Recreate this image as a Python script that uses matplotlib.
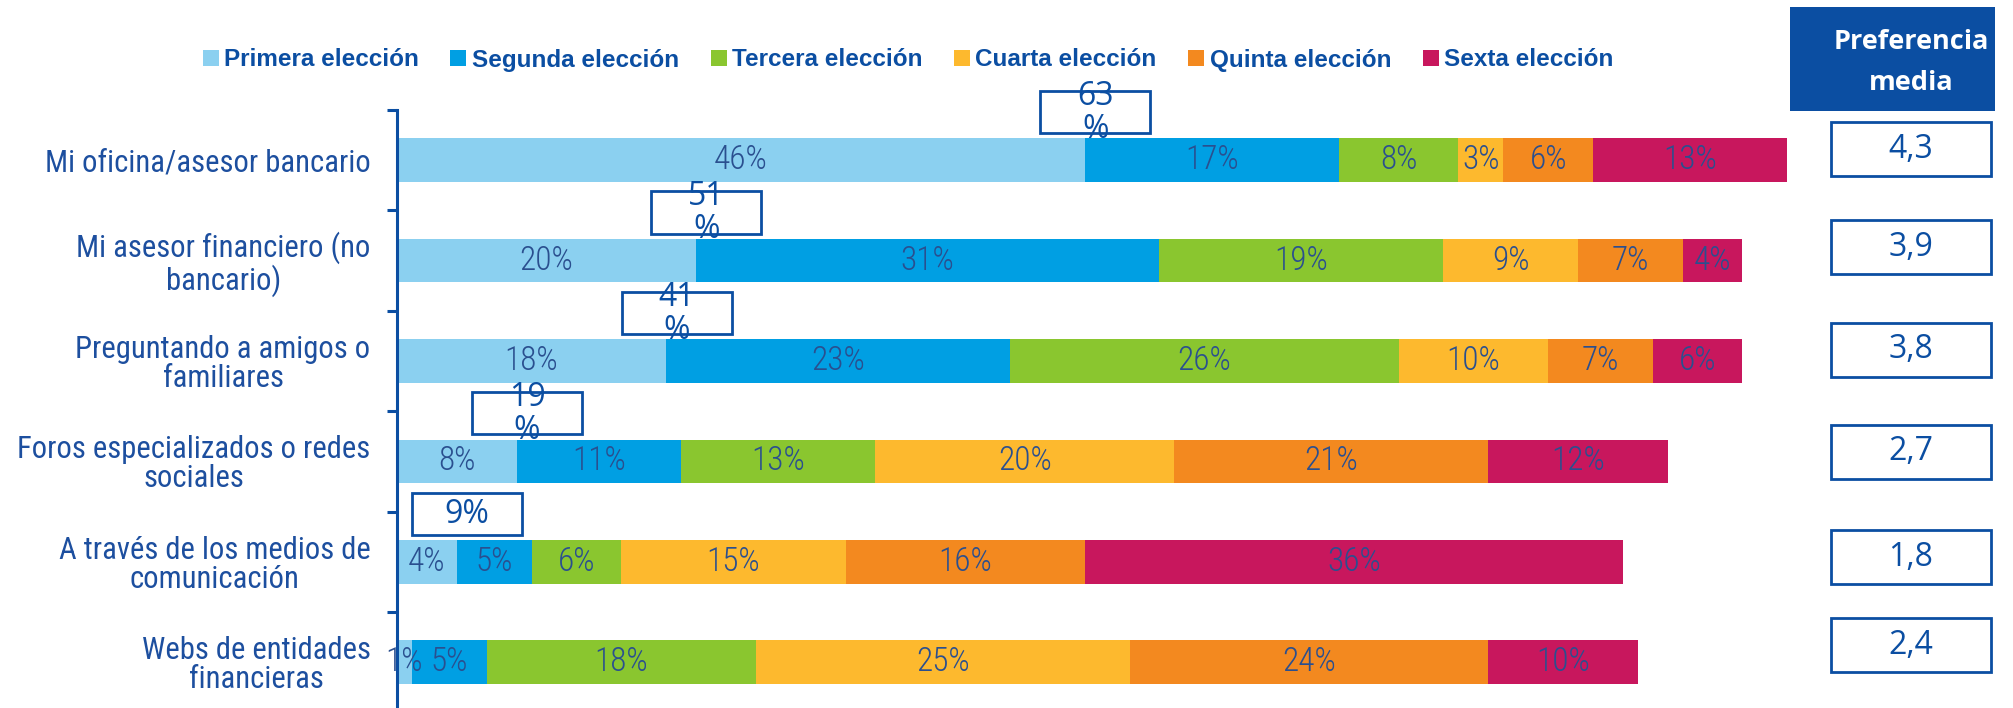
import matplotlib as mpl
mpl.use('Agg')
import numpy as np
from matplotlib import pyplot as plt
from matplotlib import font_manager
from matplotlib.patches import Rectangle

# canales de información y reparto de preferencias (% por posición)
canales = ['Mi oficina/asesor bancario',
           'Mi asesor financiero (no\nbancario)',
           'Preguntando a amigos o\nfamiliares',
           'Foros especializados o redes\nsociales',
           'A través de los medios de\ncomunicación',
           'Webs de entidades\nfinancieras']
series = ['Primera elección', 'Segunda elección', 'Tercera elección',
          'Cuarta elección', 'Quinta elección', 'Sexta elección']
primera = [46, 20, 18, 8, 4, 1]
segunda = [17, 31, 23, 11, 5, 5]
tercera = [8, 19, 26, 13, 6, 18]
cuarta = [3, 9, 10, 20, 15, 25]
quinta = [6, 7, 7, 21, 16, 24]
sexta = [13, 4, 6, 12, 36, 10]
pref_media = [4.3, 3.9, 3.8, 2.7, 1.8, 2.4]
# las filas con recuadro de primera+segunda elección
con_recuadro = [True, True, True, True, True, False]

colores = ['#8bd0f0', '#009fe3', '#8ac62f', '#fdb92e', '#f3891f', '#c8175d']
azul = '#0b4ea2'
azul_cat = '#1d4f9f'
azul_txt = '#2a4f8f'
opensans = ['Open Sans', 'DejaVu Sans']


def existe(nombre):
    try:
        font_manager.findfont(font_manager.FontProperties(family=nombre),
                              fallback_to_default=False)
        return True
    except ValueError:
        return False


# fuente estrecha si la hay
estrecha = None
for f in ['Liberation Sans Narrow', 'Roboto Condensed', 'Liberation Sans']:
    if existe(f):
        estrecha = [f, 'DejaVu Sans']
        break
if estrecha is None:
    estrecha = ['DejaVu Sans']

W, H = 2013, 708
fig = plt.figure(figsize=(W / 100, H / 100), dpi=100)
renderer = fig.canvas.get_renderer()


def talla_para(texto, ancho_px, **kw):
    # tamaño de letra para que el texto ocupe ancho_px
    t = fig.text(0, 0, texto, fontsize=20, **kw)
    w = t.get_window_extent(renderer).width
    t.remove()
    return 20 * ancho_px / w


talla_cat = talla_para('Mi oficina/asesor bancario', 324, family=estrecha)
talla_seg = min(talla_para('17%', 56, family=estrecha, fontweight='light'), 24)

# eje de barras: x=0 en 397 px, 100% = 1495 px; filas de 110 px a 712 px
ax = fig.add_axes([397 / W, (H - 712.5) / H, 1495 / W, 602.5 / H])
ax.set_xlim(0, 100)
ax.set_ylim(5.5, -0.5)

datos = np.array([primera, segunda, tercera, cuarta, quinta, sexta])
y = np.arange(len(canales))
izq = np.zeros(len(canales))
handles = []
for k in range(len(series)):
    bars = ax.barh(y, datos[k], left=izq, height=0.435, color=colores[k],
                   label=series[k], linewidth=0)
    handles.append(bars)
    for i, v in enumerate(datos[k]):
        ax.text(izq[i] + v / 2, y[i], f'{v}%', ha='center', va='center',
                fontsize=talla_seg, color=azul_txt, family=estrecha,
                fontweight='light')
    izq = izq + datos[k]

# recuadros con la suma de primera y segunda elección
for i in range(len(canales)):
    if not con_recuadro[i]:
        continue
    total = primera[i] + segunda[i]
    cx = primera[i] + 0.7
    cy = y[i] - 0.48
    ax.add_patch(Rectangle((cx - 3.68, cy - 0.21), 7.36, 0.42, fill=False,
                           ec=azul, lw=2, clip_on=False, zorder=5))
    txt = f'{total}%' if total < 10 else f'{total}\n%'
    ax.text(cx, cy + 0.01, txt, ha='center', va='center', fontsize=23,
            color=azul, family=opensans, linespacing=1.0, zorder=6,
            clip_on=False)

for s in ['top', 'right', 'bottom']:
    ax.spines[s].set_visible(False)
ax.spines['left'].set_color(azul)
ax.spines['left'].set_linewidth(2.2)
ax.set_xticks([])
ax.set_yticks(y)
ax.set_yticklabels(canales)
ax.set_yticks(np.arange(-0.5, 6, 1), minor=True)
ax.tick_params(axis='y', which='major', length=0, pad=19)
ax.tick_params(axis='y', which='minor', length=7, width=2.2, color=azul)
for lab in ax.get_yticklabels():
    lab.set_family(estrecha)
    lab.set_fontsize(talla_cat)
    lab.set_color(azul_cat)
    lab.set_multialignment('center')
    lab.set_linespacing(1.0)

# leyenda superior
fig.legend(handles=handles, labels=series, ncol=6, loc='center',
           bbox_to_anchor=(908 / W, 1 - 60 / H), frameon=False,
           prop={'family': 'Liberation Sans', 'weight': 'bold', 'size': 17.5},
           labelcolor=azul, handlelength=0.66, handleheight=0.66,
           handletextpad=0.22, columnspacing=1.3, borderpad=0)

# panel derecho: preferencia media
fig.add_artist(Rectangle((1790 / W, 1 - 111 / H), 205 / W, 104 / H,
                         transform=fig.transFigure, fc=azul, ec='none'))
fig.text(1911 / W, 1 - 42 / H, 'Preferencia', ha='center', va='center',
         color='white', fontsize=19.5, fontweight='bold', family=opensans)
fig.text(1911 / W, 1 - 83 / H, 'media', ha='center', va='center',
         color='white', fontsize=19.5, fontweight='bold', family=opensans)

caja_y = [149, 247, 350, 452, 557, 645]
for v, cyp in zip(pref_media, caja_y):
    fig.add_artist(Rectangle((1831 / W, 1 - (cyp + 27) / H), 160 / W, 54 / H,
                             transform=fig.transFigure, fill=False, ec=azul,
                             lw=2))
    fig.text(1911 / W, 1 - cyp / H, f'{v:.1f}'.replace('.', ','),
             ha='center', va='center', fontsize=23, color=azul,
             family=opensans)

fig.savefig('out.png', dpi=100, facecolor='white')
